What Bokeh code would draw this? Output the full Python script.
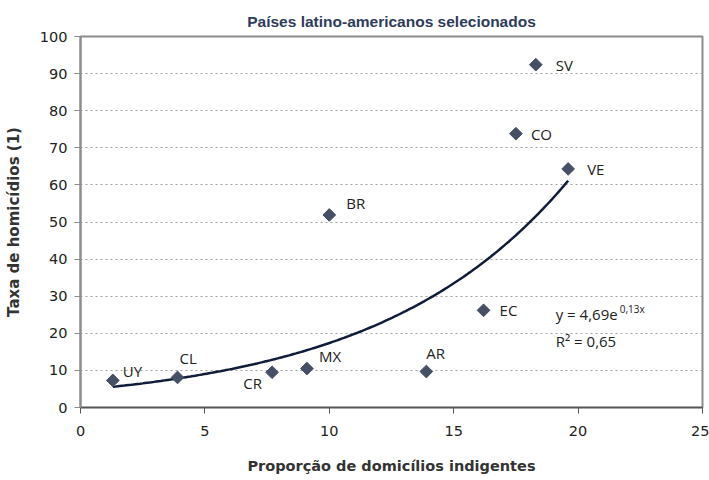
import numpy as np
from bokeh.plotting import figure
from bokeh.models import ColumnDataSource, FixedTicker, Label, LabelSet, Range1d
from bokeh.core.properties import value
from bokeh.embed import file_html
from bokeh.resources import INLINE

# ---- data ----
countries = ["UY", "CL", "CR", "MX", "AR", "EC", "BR", "CO", "SV", "VE"]
indigence = [1.3, 3.9, 7.7, 9.1, 13.9, 16.2, 10.0, 17.5, 18.3, 19.6]
homicides = [7.3, 8.1, 9.5, 10.5, 9.7, 26.2, 51.9, 73.8, 92.4, 64.3]
fit_a = 4.69
fit_b = 0.131
eq_text = "y = 4,69e"
eq_exp = "0,13x"
r2_text = "R² = 0,65"
x_ticks = [0, 5, 10, 15, 20, 25]
y_ticks = [0, 10, 20, 30, 40, 50, 60, 70, 80, 90, 100]

# label placement (screen px) per country
label_offsets = {
    "UY": (10, 9, "left"), "CL": (2, 19, "left"), "CR": (-10, -11, "right"),
    "MX": (12, 13, "left"), "AR": (0, 19, "left"), "EC": (16, 0, "left"),
    "BR": (17, 12, "left"), "CO": (15, 0, "left"), "SV": (20, 0, "left"),
    "VE": (19, 0, "left"),
}

TICK_FONT = "DejaVu Sans"
LBL_FONT = "Open Sans"
DARK = "#333333"

p = figure(width=709, height=480, output_backend="svg", toolbar_location=None,
           x_range=Range1d(0, 25), y_range=Range1d(0, 100),
           min_border_left=80, min_border_right=7, min_border_top=36,
           min_border_bottom=73)

p.title.text = "Países latino-americanos selecionados"
p.title.align = "center"
p.title.text_font = "Liberation Sans"
p.title.text_font_size = "15.5px"
p.title.text_font_style = "bold"
p.title.text_color = "#2E3B5B"
p.title.standoff = 14

p.outline_line_color = "#8c8c8c"
p.outline_line_width = 2
p.xgrid.grid_line_color = None
p.ygrid.grid_line_color = "#a0a0a0"
p.ygrid.grid_line_dash = "2 3"
p.ygrid.grid_line_width = 1

p.xaxis.ticker = FixedTicker(ticks=x_ticks)
p.yaxis.ticker = FixedTicker(ticks=y_ticks)
for ax in (p.xaxis[0], p.yaxis[0]):
    ax.minor_tick_line_color = None
    ax.major_tick_in = 0
    ax.major_tick_out = 6
    ax.major_label_text_font = TICK_FONT
    ax.major_label_text_font_size = "14.5px"
    ax.major_label_text_color = "#222222"
    ax.axis_label_text_font = "DejaVu Sans"
    ax.axis_label_text_font_style = "bold"
    ax.axis_label_text_color = DARK
p.xaxis.axis_label_text_font_size = "14.5px"
p.yaxis.axis_label_text_font_size = "15px"
p.xaxis.axis_line_color = "#555555"
p.xaxis.major_tick_line_color = "#555555"
p.xaxis.axis_line_width = 1.5
p.yaxis.axis_line_color = "#8c8c8c"
p.yaxis.major_tick_line_color = "#8c8c8c"
p.yaxis.axis_line_width = 2
p.xaxis.major_label_standoff = 12
p.yaxis.major_label_standoff = 7
p.xaxis.axis_label = "Proporção de domicílios indigentes"
p.yaxis.axis_label = "Taxa de homicídios (1)"
p.xaxis.axis_label_standoff = 19
p.yaxis.axis_label_standoff = 14

# trend line from the chart's fitted exponential
xs = np.linspace(min(indigence), max(indigence), 200)
p.line(xs, fit_a * np.exp(fit_b * xs), line_color="#0F1C3A", line_width=2.5)

src = ColumnDataSource(dict(
    x=indigence, y=homicides, name=countries,
    dx=[label_offsets[c][0] for c in countries],
    dy=[label_offsets[c][1] for c in countries],
    align=[label_offsets[c][2] for c in countries],
))
p.scatter("x", "y", source=src, marker="square", angle=np.pi / 4, size=9,
          fill_color="#454F66", line_color="#454F66")
p.add_layout(LabelSet(x="x", y="y", text="name", source=src,
                      x_offset="dx", y_offset="dy", text_align="align",
                      text_baseline="middle", text_font=value(LBL_FONT),
                      text_font_size=value("15px"), text_color="#222222"))

eq_x = 19.1
p.add_layout(Label(x=eq_x, y=25.1, text=eq_text, text_font=LBL_FONT,
                   text_font_size="15px", text_color="#222222",
                   text_baseline="middle"))
p.add_layout(Label(x=eq_x, y=25.1, x_offset=64, y_offset=5, text=eq_exp,
                   text_font=LBL_FONT, text_font_size="10px", text_color="#222222",
                   text_baseline="middle"))
p.add_layout(Label(x=eq_x, y=17.8, text=r2_text, text_font=LBL_FONT,
                   text_font_size="15px", text_color="#222222",
                   text_baseline="middle"))

open("out.html", "w").write(file_html(p, INLINE))
